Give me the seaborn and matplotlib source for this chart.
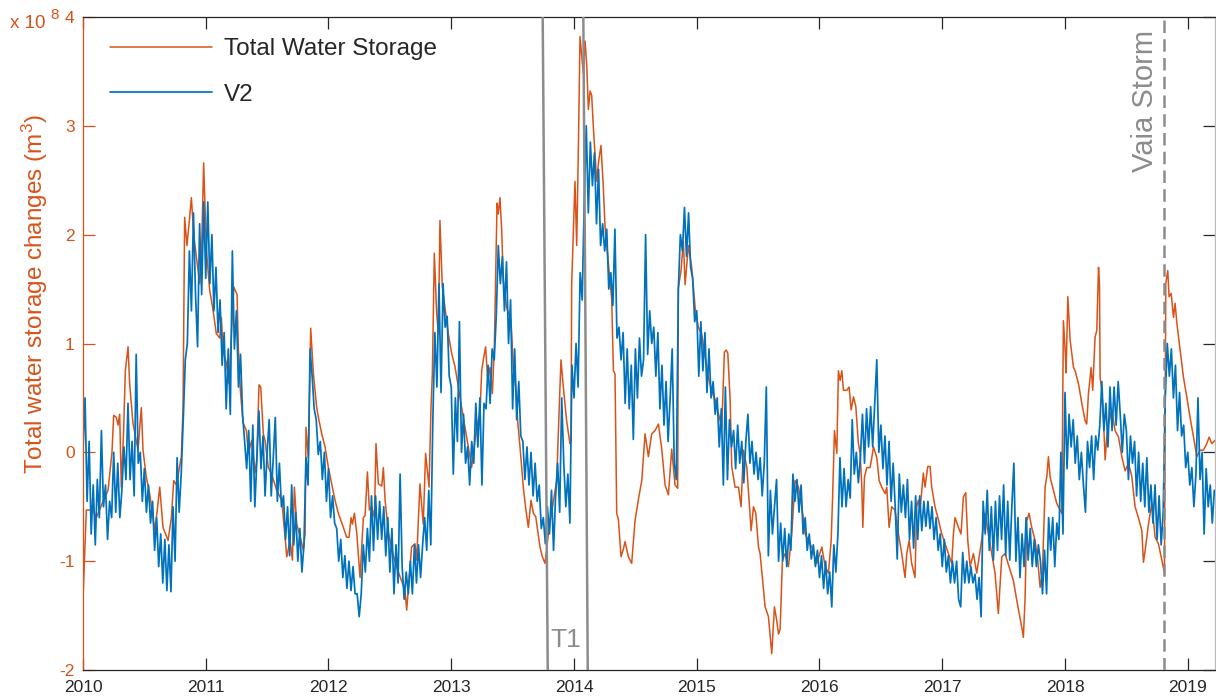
import numpy as np
import pandas as pd
import matplotlib
matplotlib.use("Agg")
import matplotlib.pyplot as plt
import seaborn as sns

# ---------------- data (values in units of 1e8 m^3) ----------------
tws_year = [
    2010.000, 2010.027, 2010.081, 2010.109, 2010.163, 2010.204, 2010.236, 2010.250, 2010.272, 2010.285,
    2010.299, 2010.312, 2010.331, 2010.345, 2010.367, 2010.380, 2010.407, 2010.448, 2010.475, 2010.489,
    2010.516, 2010.543, 2010.584, 2010.603, 2010.625, 2010.652, 2010.693, 2010.720, 2010.739, 2010.761,
    2010.801, 2010.815, 2010.828, 2010.847, 2010.869, 2010.883, 2010.902, 2010.923, 2010.951, 2010.967,
    2010.983, 2011.005, 2011.032, 2011.059, 2011.086, 2011.114, 2011.127, 2011.141, 2011.168, 2011.190,
    2011.228, 2011.255, 2011.266, 2011.282, 2011.304, 2011.331,
    2011.347, 2011.374, 2011.401, 2011.415, 2011.434, 2011.448, 2011.469, 2011.483, 2011.510, 2011.537,
    2011.578, 2011.619, 2011.632, 2011.660, 2011.687, 2011.706, 2011.722, 2011.741, 2011.768, 2011.795,
    2011.809, 2011.817, 2011.836, 2011.855, 2011.877, 2011.904, 2011.923, 2011.945, 2011.972, 2011.999,
    2012.026, 2012.053, 2012.080, 2012.121, 2012.148, 2012.167, 2012.184, 2012.195, 2012.211, 2012.230,
    2012.257, 2012.271, 2012.284, 2012.298, 2012.317, 2012.333, 2012.352, 2012.374, 2012.387, 2012.406,
    2012.434, 2012.447, 2012.461, 2012.488, 2012.529, 2012.569, 2012.624,
    2012.637, 2012.677, 2012.704, 2012.718, 2012.745, 2012.772, 2012.791, 2012.808, 2012.819, 2012.835,
    2012.846, 2012.862, 2012.881, 2012.895, 2012.908, 2012.927, 2012.949, 2012.976, 2013.003, 2013.030,
    2013.058, 2013.085, 2013.112, 2013.139, 2013.166, 2013.207, 2013.234, 2013.248, 2013.261, 2013.280,
    2013.297, 2013.316, 2013.335, 2013.351, 2013.362, 2013.373, 2013.383, 2013.397, 2013.411, 2013.424,
    2013.451, 2013.470, 2013.487, 2013.506, 2013.525, 2013.541, 2013.560, 2013.587, 2013.606, 2013.628,
    2013.650, 2013.669, 2013.688, 2013.704, 2013.723, 2013.742, 2013.764, 2013.791, 2013.818, 2013.859,
    2013.878, 2013.894, 2013.913, 2013.940, 2013.967,
    2013.976, 2013.981, 2014.008, 2014.022, 2014.036, 2014.049, 2014.076, 2014.090, 2014.104, 2014.117,
    2014.131, 2014.144, 2014.158, 2014.185, 2014.199, 2014.220, 2014.239, 2014.253, 2014.280, 2014.307,
    2014.321, 2014.334, 2014.348, 2014.362, 2014.383, 2014.402, 2014.416, 2014.443, 2014.470, 2014.497,
    2014.525, 2014.552, 2014.579, 2014.606, 2014.633, 2014.660, 2014.688, 2014.715, 2014.742, 2014.769,
    2014.796, 2014.823, 2014.845, 2014.850, 2014.872, 2014.891, 2014.905, 2014.932, 2014.959, 2014.986,
    2015.013, 2015.041, 2015.068, 2015.095, 2015.122, 2015.149, 2015.176, 2015.204, 2015.225,
    2015.240, 2015.253, 2015.272, 2015.285, 2015.312, 2015.340, 2015.361, 2015.380, 2015.408, 2015.443,
    2015.462, 2015.481, 2015.503, 2015.516, 2015.557, 2015.584, 2015.611, 2015.633, 2015.652, 2015.666,
    2015.679, 2015.698, 2015.720, 2015.747, 2015.774, 2015.801, 2015.829, 2015.856, 2015.883, 2015.937,
    2015.978, 2016.019, 2016.046, 2016.073, 2016.095, 2016.106, 2016.122, 2016.141, 2016.154, 2016.168,
    2016.182, 2016.195, 2016.222, 2016.241, 2016.258, 2016.277, 2016.296, 2016.317, 2016.331, 2016.345,
    2016.353, 2016.366, 2016.385, 2016.412, 2016.426, 2016.440, 2016.467, 2016.486, 2016.507, 2016.535,
    2016.548, 2016.567, 2016.588, 2016.615, 2016.643, 2016.670, 2016.697, 2016.711, 2016.730, 2016.751,
    2016.778, 2016.792, 2016.806, 2016.819, 2016.846, 2016.860, 2016.882, 2016.901, 2016.914, 2016.941,
    2016.969, 2016.996, 2017.023, 2017.050, 2017.077, 2017.091, 2017.104, 2017.132, 2017.153, 2017.172,
    2017.191, 2017.208, 2017.227, 2017.254, 2017.281, 2017.322, 2017.349, 2017.376, 2017.403, 2017.430,
    2017.457, 2017.485, 2017.512, 2017.544, 2017.580, 2017.607, 2017.648, 2017.661, 2017.675, 2017.688,
    2017.707, 2017.729, 2017.756, 2017.778, 2017.797, 2017.816, 2017.838,
    2017.852, 2017.865, 2017.879, 2017.906, 2017.933, 2017.960, 2017.974, 2017.987, 2018.001, 2018.009,
    2018.023, 2018.042, 2018.069, 2018.082, 2018.096, 2018.110, 2018.137, 2018.164, 2018.177, 2018.191,
    2018.213, 2018.226, 2018.245, 2018.259, 2018.273, 2018.281, 2018.286, 2018.300, 2018.313, 2018.327,
    2018.340, 2018.354, 2018.381, 2018.408, 2018.436, 2018.463, 2018.490, 2018.517, 2018.544, 2018.571,
    2018.598, 2018.626, 2018.639, 2018.653, 2018.680, 2018.707, 2018.734, 2018.761, 2018.789, 2018.810,
    2018.821, 2018.837, 2018.848, 2018.865, 2018.884, 2018.897, 2018.911, 2018.938, 2018.965, 2018.992,
    2019.019, 2019.047, 2019.074, 2019.101, 2019.128, 2019.155, 2019.174, 2019.196, 2019.223,
]
tws_value = [
    -1.35, -0.53, -0.53, -0.60, -0.45, -0.35, 0.00, 0.34, 0.32, 0.25,
    0.35, -0.32, 0.20, 0.75, 0.97, 0.63, 0.27, 0.02, 0.41, 0.02,
    -0.23, -0.38, -0.72, -0.55, -0.32, -0.69, -0.81, -0.60, -0.26, -0.30,
    -0.04, 0.41, 2.16, 1.90, 2.16, 2.34, 2.00, 1.80, 1.55, 1.90,
    2.66, 1.86, 1.49, 1.31, 1.09, 1.05, 1.24, 0.94, 0.82, 0.63,
    1.52, 1.45, 0.94, 0.57, 0.27, 0.20,
    -0.01, 0.11, -0.19, -0.07, 0.62, 0.60, 0.17, 0.11, -0.14, -0.20,
    -0.35, -0.44, -0.60, -0.96, -0.81, -0.99, -0.32, -0.66, -0.77, -0.90,
    -0.75, 0.23, -0.05, 1.14, 0.72, 0.41, 0.29, 0.17, 0.05, -0.14,
    -0.29, -0.44, -0.56, -0.69, -0.78, -0.78, -0.60, -0.66, -0.56, -0.74,
    -1.15, -0.87, -0.60, -0.58, -0.18, -0.53, -0.50, -0.60, 0.08, -0.29,
    -0.31, -0.14, -0.44, -0.74, -0.95, -1.10, -1.27,
    -1.45, -0.87, -0.84, -0.99, -0.29, -0.66, -0.01, -0.20, -0.32, 0.41,
    0.72, 1.83, 1.28, 1.09, 2.13, 1.52, 1.33, 1.09, 0.91, 0.79,
    0.60, 0.41, 0.23, 0.05, -0.14, 0.23, 0.36, 0.75, 0.85, 0.97,
    0.66, 0.78, 0.54, 0.97, 1.65, 2.29, 2.19, 2.34, 2.04, 1.58,
    1.33, 1.27, 1.21, 0.78, 0.60, 0.29, 0.05, -0.32, -0.51, -0.69,
    -0.44, -0.56, -0.59, -0.72, -0.87, -0.96, -1.02, -0.75, -0.55, -0.26,
    0.36, 0.85, 0.60, 0.29, 0.08,
    0.10, 1.54, 2.49, 1.90, 2.82, 3.82, 3.48, 3.78, 3.55, 3.15,
    3.32, 3.28, 2.98, 2.49, 2.66, 2.82, 2.43, 2.07, 1.74, 1.41,
    0.75, 0.72, -0.56, -0.62, -0.96, -0.89, -0.82, -0.96, -1.02, -0.63,
    -0.43, -0.26, 0.17, -0.04, 0.17, 0.20, 0.26, 0.03, -0.30, -0.39,
    0.03, -0.30, -0.33, 1.51, 1.67, 1.94, 1.54, 1.90, 1.70, 1.34,
    1.15, 1.08, 0.88, 0.69, 0.56, 0.49, 0.36, 0.23, 0.92,
    0.94, 0.91, 0.48, -0.13, -0.32, -0.32, -0.50, 0.02, -0.14, -0.72,
    -0.50, -0.56, -0.87, -0.93, -1.42, -1.51, -1.85, -1.42, -1.55, -1.67,
    -1.63, -0.99, -0.93, -1.05, -0.75, -0.26, -0.32, -0.50, -0.75, -0.87,
    -1.02, -0.87, -1.05, -1.11, -0.81, -0.44, 0.20, -0.01, 0.75, 0.66,
    0.75, 0.57, 0.57, 0.60, 0.39, 0.51, 0.42, 0.08, -0.01, -0.32,
    -0.69, -0.23, -0.14, -0.14, -0.05, 0.05, -0.05, -0.26, -0.32, -0.38,
    -0.32, -0.69, -0.50, -0.53, -0.75, -0.93, -1.15, -0.93, -0.81, -1.02,
    -1.15, -0.50, -0.44, -0.53, -0.19, -0.32, -0.13, -0.13, -0.32, -0.50,
    -0.62, -0.75, -0.84, -0.93, -1.02, -0.75, -0.60, -0.69, -0.75, -0.41,
    -0.37, -0.81, -1.05, -0.93, -1.11, -0.80, -0.56, -0.75, -0.93, -1.11,
    -1.48, -0.96, -0.93, -1.05, -1.18, -1.36, -1.61, -1.70, -1.33, -0.63,
    -0.56, -0.69, -0.81, -0.99, -1.24, -1.11, -0.32,
    -0.22, -0.04, -0.23, -0.35, -0.47, -0.53, -0.56, 1.21, 0.94, 0.73,
    1.43, 1.03, 0.78, 0.75, 0.69, 0.63, 0.45, 0.29, 0.26, 0.54,
    0.78, 0.57, 1.06, 1.12, 1.70, 1.55, 0.69, 0.57, 0.32, -0.07,
    0.14, 0.26, 0.39, 0.20, 0.14, -0.04, -0.17, -0.10, -0.22, -0.50,
    -0.60, -0.72, -1.01, -0.90, -0.66, -0.47, -0.78, -0.84, -0.99, -1.11,
    1.55, 1.67, 1.43, 1.46, 1.24, 1.37, 1.19, 0.94, 0.69, 0.51,
    0.32, 0.14, -0.04, 0.02, 0.02, 0.08, 0.14, 0.08, 0.11,
]

# V2 series: one sample every 1/60 year starting at 2010.0
v2_start_year = 2010.0
v2_samples_per_year = 60
v2_value = [
    0.02, 0.5, -0.45, 0.1, -0.75, -0.3, -0.85, -0.25, -0.6, 0.2,
    -0.5, -0.3, -0.8, -0.45, -0.6, 0.0, -0.55, -0.1, -0.6, -0.35,
    0.05, -0.25, 0.45, -0.25, 0.1, -0.4, 0.9, -0.1, 0.0, -0.45,
    -0.15, -0.55, -0.3, -0.65, -0.45, -0.9, -0.6, -1.05, -0.75, -1.2,
    -0.8, -1.27, -0.85, -1.28, -0.5, -1.0, -0.05, -0.55, -0.2, 0.3,
    0.85, 1.0, 1.85, 1.3, 2.2, 1.45, 0.97, 2.1, 1.45, 2.3,
    1.6, 2.3, 1.55, 2.0, 1.3, 1.7, 1.1, 1.4, 0.8, 1.1,
    0.4, 0.95, 0.35, 1.85, 0.95, 1.3, 0.6, 0.9, 0.35, 0.1,
    -0.15, 0.2, -0.45, 0.25, -0.5, -0.05, 0.38, -0.15, 0.15, -0.4,
    0.0, 0.3, -0.4, -0.05, 0.32, -0.45, -0.1, -0.5, -0.4, -0.8,
    -0.5, -0.95, -0.3, -0.85, -0.55, -1.0, -0.7, -1.1, -0.85, -0.05,
    -0.3, 0.95, 0.7, 0.4, 0.3, -0.02, 0.1, -0.25, 0.0, -0.45,
    -0.15, -0.6, -0.4, -0.65, -0.7, -1.0, -0.8, -1.15, -0.95, -1.25,
    -1.0, -1.27, -1.05, -1.3, -1.3, -1.51, -1.3, -0.85, -1.1, -0.7,
    -1.0, -0.4, -0.9, -0.4, -0.8, -0.45, -0.8, -0.5, -0.95, -0.6,
    -1.1, -0.7, -1.3, -0.85, -1.2, -0.2, -1.05, -1.35,
    -1.1, -1.3, -1.0, -1.3, -0.85, -1.2, -0.85, -1.15, -0.85, -0.6,
    -0.9, -0.35, -0.85, 0.3, 1.1, 0.6, 1.55, 0.55, 1.55, 1.15,
    1.25, 0.7, 0.6, -0.2, 0.5, 0.1, 1.2, 0.0, 0.35, -0.1,
    0.05, -0.3, 0.1, -0.1, 0.45, 0.05, 0.5, -0.3, 0.45, 0.4,
    0.8, 0.45, 0.95, 0.85, 1.25, 1.9, 1.55, 1.8, 1.3, 1.75,
    1.0, 1.4, 0.4, 0.95, 0.3, 0.65, 0.15, 0.1, -0.25, 0.05,
    -0.3, 0.0, -0.4, -0.1, -0.45, -0.3, -0.7, -0.6, -0.84, -0.5,
    -0.75, -0.35, -0.9, -0.4, -0.1, -0.55, 0.5, -0.1,
    -0.5, -0.2, -0.65, 0.8, 0.5, 1.0, 0.6, 1.65, 1.4, 2.3,
    3.0, 2.2, 2.85, 2.45, 2.75, 2.1, 2.6, 1.9, 2.1, 1.85,
    2.05, 1.5, 1.65, 1.35, 2.05, 1.05, 1.15, 0.85, 1.1, 0.45,
    0.95, 0.4, 0.8, 0.12, 0.95, 0.5, 1.05, 0.7, 0.85, 2.0,
    0.9, 1.3, 1.0, 1.15, 0.7, 1.1, 0.4, 0.8, 0.25, 0.65,
    0.1, 0.5, 0.95, -0.1, -0.25, 1.5, 2.0, 1.85, 2.25, 1.8,
    2.2, 1.7, 1.6, 1.2, 1.3, 0.7, 1.2, 0.75, 1.1, 0.55,
    0.95, 0.5, 0.65, 0.35, 0.5, 0.05, 0.4, -0.3,
    0.6, -0.25, 0.3, 0.05, 0.2, -0.15, 0.25, -0.1, 0.1, -0.28,
    0.1, 0.35, -0.1, 0.1, -0.2, 0.0, -0.25, -0.05, -0.4, -0.1,
    0.6, -0.95, -0.35, -0.75, -0.5, -0.25, -1.0, -0.65, -1.0, -0.7,
    -1.05, -0.75, -0.9, -0.2, -0.45, -0.25, -0.55, -0.3, -0.75, -0.6,
    -0.9, -0.75, -0.98, -0.85, -1.05, -0.9, -1.15, -0.95, -1.25, -1.0,
    -1.3, -1.1, -1.42, -0.85, -1.1, -0.75, -0.05, -0.5, -0.15, -0.5,
    -0.25, -0.42, 0.3, -0.2, 0.0, -0.28, -0.05, 0.35, -0.1, 0.4,
    0.05, 0.42, 0.05, 0.45, 0.85, 0.0, 0.25, -0.15, 0.15,
    -0.3, 0.1, -0.45, -0.1, -0.5, -0.98, -0.2, -0.55, -0.3, -0.6,
    -0.25, -0.8, -0.45, -0.88, -0.4, -0.8, -0.4, -0.72, -0.45, -0.68,
    -0.45, -0.7, -0.5, -0.8, -0.6, -0.9, -0.75, -1.05, -0.8, -1.1,
    -0.95, -1.2, -1.0, -1.2, -1.0, -1.35, -1.42, -0.92, -1.2, -1.0,
    -1.2, -1.05, -1.2, -1.12, -1.35, -1.15, -1.51, -0.45, -0.75, -0.35,
    -0.9, -0.5, -0.99, -0.45, -0.9, -0.4, -0.8, -0.3, -0.95, -0.45,
    -0.99, -0.5, -0.1, -1.0, -0.6, -1.15, -0.75, -1.05, -0.6, -0.99,
    -0.7, -1.05, -0.8, -1.05, -0.85, -1.0, -1.3, -0.9,
    -1.3, -0.6, -0.9, -0.6, -1.05, -0.65, -0.8, 0.0, -0.75, 0.55,
    -0.15, 0.35, 0.05, 0.3, -0.1, 0.15, -0.25, 0.0, -0.3, -0.55,
    0.1, -0.14, 0.15, -0.25, 0.15, 0.02, 0.25, 0.65, 0.2, 0.45,
    0.05, 0.6, 0.2, 0.6, 0.25, 0.65, 0.35, 0.0, 0.35, 0.2,
    -0.25, 0.15, -0.1, 0.1, -0.4, 0.0, -0.45, -0.1, -0.5, -0.05,
    -0.55, -0.3, -0.65, -0.3, -0.8, -0.4, -0.85, -0.55, 0.5, 1.0,
    0.7, 0.95, 0.5, 0.8, 0.2, 0.55, 0.15, 0.25, -0.14, 0.0,
    -0.3, -0.14, -0.5, -0.2, 0.5, -0.25, 0.0, -0.75, -0.15, -0.5,
    -0.3, -0.65, -0.35,
]

t1_top_year = [2013.745, 2014.076]
t1_bottom_year = [2013.786, 2014.112]
vaia_year = 2018.805
year_ticks = [2010, 2011, 2012, 2013, 2014, 2015, 2016, 2017, 2018, 2019]
value_ticks = [-2, -1, 0, 1, 2, 3, 4]
x_range = (2010.0, 2019.222)
y_range = (-2.0, 4.0)

assert len(tws_year) == len(tws_value)

# ---------------- style ----------------
ORANGE = "#D95319"
BLUE = "#0072BD"
GRAY = "#8C8C8C"
DARK = "#262626"

sns.set_style("ticks")
plt.rcParams["font.family"] = ["Liberation Sans", "DejaVu Sans"]
plt.rcParams["mathtext.default"] = "regular"
plt.rcParams["axes.unicode_minus"] = False

fig = plt.figure(figsize=(12.16, 6.98), dpi=100)
ax = fig.add_axes([83 / 1216, 28 / 698, 1132 / 1216, 653 / 698])

df_tws = pd.DataFrame({"year": tws_year, "value": tws_value})
v2_year = v2_start_year + np.arange(len(v2_value)) / v2_samples_per_year
df_v2 = pd.DataFrame({"year": v2_year, "value": v2_value})

sns.lineplot(data=df_tws, x="year", y="value", ax=ax, color=ORANGE, linewidth=1.1,
             label="Total Water Storage", estimator=None, zorder=2)
sns.lineplot(data=df_v2, x="year", y="value", ax=ax, color=BLUE, linewidth=1.25,
             label="V2", estimator=None, zorder=2.1)

ax.set_xlim(*x_range)
ax.set_ylim(*y_range)

# event lines
for xt, xb in zip(t1_top_year, t1_bottom_year):
    ax.plot([xt, xb], [y_range[1], y_range[0]], color=GRAY, linewidth=1.8, zorder=3,
            solid_capstyle="butt")
ax.axvline(vaia_year, color=GRAY, linewidth=1.8, linestyle=(0, (5, 2.5)), zorder=3)

ax.text(2013.935, -1.79, "T1", color=GRAY, fontsize=19, ha="center", va="baseline")
ax.text(2018.768, 3.88, "Vaia Storm", color=GRAY, fontsize=21, rotation=90,
        ha="right", va="top")

# axes
ax.set_xticks(year_ticks)
ax.set_xticklabels([str(y) for y in year_ticks])
ax.set_yticks(value_ticks)
ax.set_yticklabels([str(v) for v in value_ticks])
ax.set_xlabel("")
ax.set_ylabel("Total water storage changes (m$^3$)", color=ORANGE, fontsize=17.5)
ax.yaxis.set_label_coords(-0.029, 0.576)

ax.tick_params(axis="x", direction="in", length=8.6, width=0.9, top=True, bottom=True,
               colors=DARK, labelsize=12.5, pad=7.5)
ax.tick_params(axis="y", direction="in", length=8.6, width=0.9, left=True, right=False,
               colors=ORANGE, labelsize=12.5, pad=6)
for side in ["top", "bottom"]:
    ax.spines[side].set_color(DARK)
    ax.spines[side].set_linewidth(0.9)
ax.spines["left"].set_color(ORANGE)
ax.spines["left"].set_linewidth(0.9)
ax.spines["right"].set_visible(False)

sec = ax.secondary_yaxis("right")
sec.set_yticks(value_ticks)
sec.tick_params(direction="in", length=8.6, width=0.9, colors=DARK, labelright=False)
sec.spines["right"].set_color("#BBBBBB")
sec.spines["right"].set_linewidth(0.9)

fig.text(10 / 1216, 1 - 28 / 698, "x 10", color=ORANGE, fontsize=13.5,
         ha="left", va="baseline")
fig.text(50 / 1216, 1 - 19 / 698, "8", color=ORANGE, fontsize=11,
         ha="left", va="baseline")

leg = ax.legend(loc="upper left", bbox_to_anchor=(0.015, 0.982), frameon=False, fontsize=17.5,
                handlelength=4.2, handletextpad=0.5, labelspacing=0.95, borderaxespad=0)

fig.savefig("out.png", dpi=100)
